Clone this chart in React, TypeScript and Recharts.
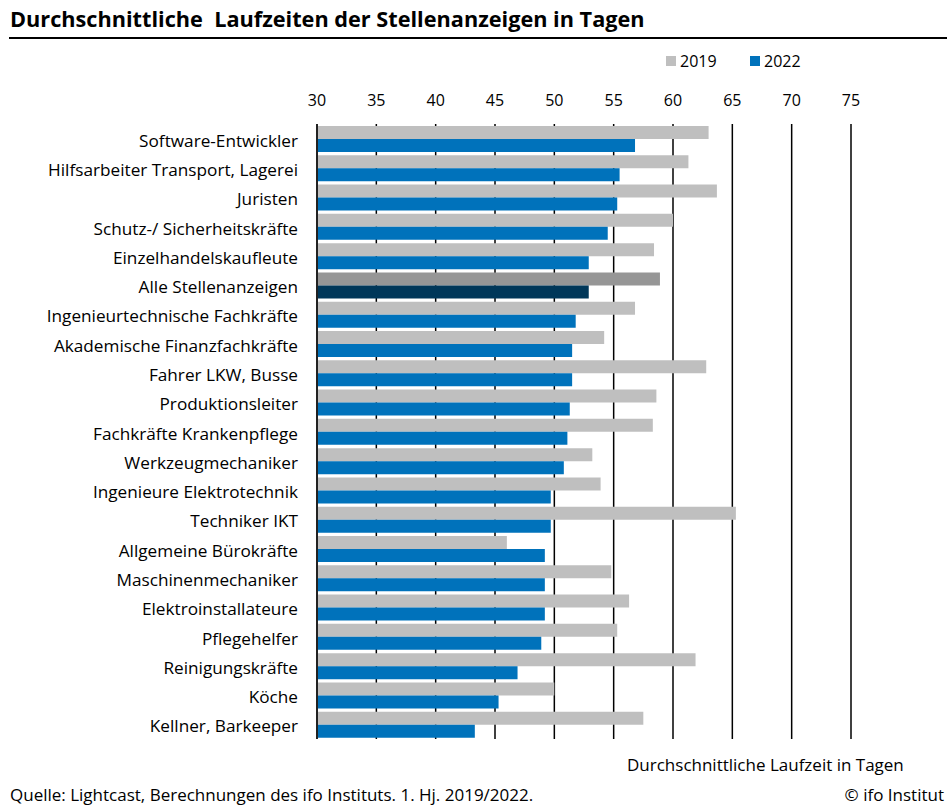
import React from "react";
import { BarChart, Bar, XAxis, YAxis, CartesianGrid, Cell } from "recharts";

const categories = [
  "Software-Entwickler",
  "Hilfsarbeiter Transport, Lagerei",
  "Juristen",
  "Schutz-/ Sicherheitskräfte",
  "Einzelhandelskaufleute",
  "Alle Stellenanzeigen",
  "Ingenieurtechnische Fachkräfte",
  "Akademische Finanzfachkräfte",
  "Fahrer LKW, Busse",
  "Produktionsleiter",
  "Fachkräfte Krankenpflege",
  "Werkzeugmechaniker",
  "Ingenieure Elektrotechnik",
  "Techniker IKT",
  "Allgemeine Bürokräfte",
  "Maschinenmechaniker",
  "Elektroinstallateure",
  "Pflegehelfer",
  "Reinigungskräfte",
  "Köche",
  "Kellner, Barkeeper",
];

const values2019 = [63.0, 61.3, 63.7, 60.0, 58.4, 58.9, 56.8, 54.2, 62.8, 58.6, 58.3, 53.2, 53.9, 65.3, 46.0, 54.8, 56.3, 55.3, 61.9, 50.0, 57.5];
const values2022 = [56.8, 55.5, 55.3, 54.5, 52.9, 52.9, 51.8, 51.5, 51.5, 51.3, 51.1, 50.8, 49.7, 49.7, 49.2, 49.2, 49.2, 48.9, 46.9, 45.3, 43.3];

const xTicks = [30, 35, 40, 45, 50, 55, 60, 65, 70, 75];
const seriesNames = ["2019", "2022"];
const highlight = "Alle Stellenanzeigen";

const FONT = "'Open Sans', sans-serif";
const GRAY = "#BFBFBF";
const BLUE = "#0072BB";
const GRAY_DARK = "#969696";
const BLUE_DARK = "#003759";

const data = categories.map((name, i) => ({ name, v2019: values2019[i], v2022: values2022[i] }));

const textStyle: React.CSSProperties = {
  position: "absolute",
  fontSize: 17,
  lineHeight: "20px",
  whiteSpace: "nowrap",
  color: "#000",
};

export default function App() {
  return (
    <div style={{ position: "absolute", left: 0, top: 0, width: 947, height: 808, background: "#fff", fontFamily: FONT }}>
      <div style={{ position: "absolute", left: 10, top: 5, fontSize: 21.7, fontWeight: 700, lineHeight: "28px", whiteSpace: "nowrap", color: "#000" }}>
        Durchschnittliche&nbsp; Laufzeiten der Stellenanzeigen in Tagen
      </div>
      <div style={{ position: "absolute", left: 9, top: 37, width: 938, height: 2, background: "#000" }} />
      <div style={{ position: "absolute", left: 0, top: 0 }}>
        <BarChart
          width={947}
          height={808}
          data={data}
          layout="vertical"
          margin={{ top: 84, right: 96, bottom: 69, left: 17 }}
          barCategoryGap={2}
          barGap={0}
        >
          <CartesianGrid horizontal={false} vertical={true} stroke="#000" strokeWidth={1.5} />
          <XAxis
            type="number"
            orientation="top"
            domain={[30, 75]}
            ticks={xTicks}
            allowDataOverflow
            height={40}
            axisLine={false}
            tickLine={false}
            tickSize={0}
            tickMargin={18}
            tick={{ fill: "#000", fontSize: 16, fontFamily: FONT }}
          />
          <YAxis
            type="category"
            dataKey="name"
            width={300}
            interval={0}
            axisLine={{ stroke: "#222", strokeWidth: 2 }}
            tickLine={false}
            tickSize={0}
            tickMargin={19}
            tick={{ fill: "#000", fontSize: 17.2, fontFamily: FONT, dy: 2 }}
          />
          <Bar dataKey="v2019" name={seriesNames[0]} fill={GRAY} isAnimationActive={false}>
            {data.map((d) => (
              <Cell key={d.name} fill={d.name === highlight ? GRAY_DARK : GRAY} />
            ))}
          </Bar>
          <Bar dataKey="v2022" name={seriesNames[1]} fill={BLUE} isAnimationActive={false}>
            {data.map((d) => (
              <Cell key={d.name} fill={d.name === highlight ? BLUE_DARK : BLUE} />
            ))}
          </Bar>
        </BarChart>
      </div>
      <div style={{ position: "absolute", left: 666, top: 56, width: 10, height: 10, background: GRAY }} />
      <div style={{ ...textStyle, fontSize: 16, left: 680, top: 51 }}>{seriesNames[0]}</div>
      <div style={{ position: "absolute", left: 750, top: 56, width: 10, height: 10, background: BLUE }} />
      <div style={{ ...textStyle, fontSize: 16, left: 764, top: 51 }}>{seriesNames[1]}</div>
      <div style={{ ...textStyle, left: 627, top: 755 }}>Durchschnittliche Laufzeit in Tagen</div>
      <div style={{ ...textStyle, left: 10, top: 785 }}>
        Quelle: Lightcast, Berechnungen des ifo Instituts. 1. Hj. 2019/2022.
      </div>
      <div style={{ ...textStyle, right: 3, top: 785 }}>© ifo Institut</div>
    </div>
  );
}
